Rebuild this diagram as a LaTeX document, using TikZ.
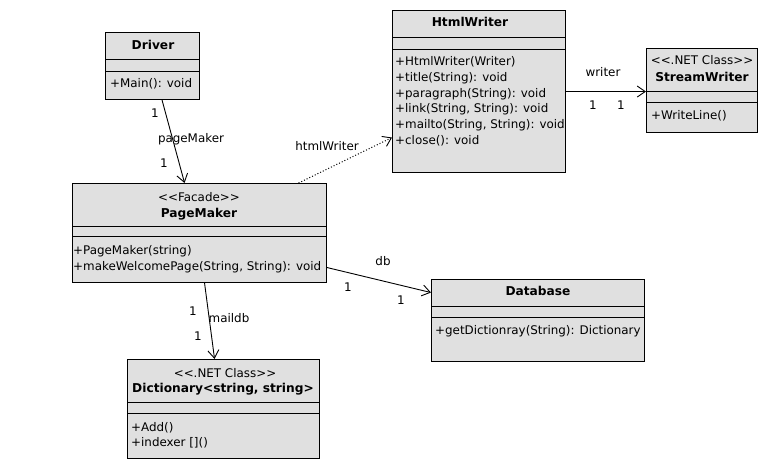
\documentclass[tikz,border=0pt]{standalone}
\usepackage{fontspec}
\setmainfont{DejaVu Sans}
\usetikzlibrary{arrows.meta,calc}
\begin{document}
\begin{tikzpicture}[x=1pt,y=-1pt,
  cls/.style={draw=black, line width=1.1pt, fill=black!12, inner sep=0pt, anchor=north west},
  sep/.style={line width=0.9pt},
  txt/.style={font=\fontsize{11.9}{14}\selectfont, inner sep=0pt},
  ttl/.style={font=\fontsize{12.2}{14}\selectfont\bfseries, inner sep=0pt, anchor=mid},
  mth/.style={txt, anchor=mid west},
  lbl/.style={txt, anchor=mid},
  assoc/.style={line width=0.9pt, -{Straight Barb[length=8pt,width=11pt]}},
  dep/.style={line width=1pt, dotted, -{Straight Barb[length=8pt,width=11pt,line width=0.9pt]}}
]
\useasboundingbox (0,0) rectangle (768,470);

% Driver
\node[cls, minimum width=94pt, minimum height=67pt] (driver) at (105,32) {};
\draw[sep] ($(driver.north west)+(0,27)$) -- ($(driver.north east)+(0,27)$);
\draw[sep] ($(driver.north west)+(0,39)$) -- ($(driver.north east)+(0,39)$);
\node[ttl] (driverT) at (153,47) {Driver};
\node[mth] (driverM1) at (110,85) {+Main(): void};

% PageMaker
\node[cls, minimum width=254pt, minimum height=99pt] (pm) at (72,183) {};
\draw[sep] ($(pm.north west)+(0,43)$) -- ($(pm.north east)+(0,43)$);
\draw[sep] ($(pm.north west)+(0,53)$) -- ($(pm.north east)+(0,53)$);
\node[lbl] (pmS) at (199,199) {<{}<Facade>{}>};
\node[ttl] (pmT) at (199,215) {PageMaker};
\node[mth] (pmM1) at (73,252) {+PageMaker(string)};
\node[mth] (pmM2) at (73,268) {+makeWelcomePage(String, String): void};

% HtmlWriter
\node[cls, minimum width=173pt, minimum height=162pt] (hw) at (392,10) {};
\draw[sep] ($(hw.north west)+(0,27)$) -- ($(hw.north east)+(0,27)$);
\draw[sep] ($(hw.north west)+(0,39)$) -- ($(hw.north east)+(0,39)$);
\node[ttl] (hwT) at (470,24) {HtmlWriter};
\node[mth] (hwM1) at (395,63) {+HtmlWriter(Writer)};
\node[mth] (hwM2) at (395,79) {+title(String): void};
\node[mth] (hwM3) at (395,94.5) {+paragraph(String): void};
\node[mth] (hwM4) at (395,110) {+link(String, String): void};
\node[mth] (hwM5) at (395,126) {+mailto(String, String): void};
\node[mth] (hwM6) at (395,142) {+close(): void};

% StreamWriter
\node[cls, minimum width=111pt, minimum height=84pt] (sw) at (646,48) {};
\draw[sep] ($(sw.north west)+(0,43)$) -- ($(sw.north east)+(0,43)$);
\draw[sep] ($(sw.north west)+(0,54)$) -- ($(sw.north east)+(0,54)$);
\node[lbl] (swS) at (702,62) {<{}<.NET Class>{}>};
\node[ttl] (swT) at (702,79) {StreamWriter};
\node[mth] (swM1) at (651,117) {+WriteLine()};

% Database
\node[cls, minimum width=213pt, minimum height=82pt] (db) at (431,279) {};
\draw[sep] ($(db.north west)+(0,27)$) -- ($(db.north east)+(0,27)$);
\draw[sep] ($(db.north west)+(0,38)$) -- ($(db.north east)+(0,38)$);
\node[ttl] (dbT) at (538,293) {Database};
\node[mth] (dbM1) at (435,332) {+getDictionray(String): Dictionary};

% Dictionary
\node[cls, minimum width=192pt, minimum height=99pt] (dict) at (127,359) {};
\draw[sep] ($(dict.north west)+(0,43)$) -- ($(dict.north east)+(0,43)$);
\draw[sep] ($(dict.north west)+(0,54)$) -- ($(dict.north east)+(0,54)$);
\node[lbl] (dictS) at (225,375) {<{}<.NET Class>{}>};
\node[ttl] (dictT) at (223,390) {Dictionary<string, string>};
\node[mth] (dictM1) at (131,429) {+Add()};
\node[mth] (dictM2) at (131,444) {+indexer [](){}};

% Connectors
\draw[assoc] ([xshift=9.5pt]driver.south) -- ([xshift=-15pt]pm.north);
\node[lbl] (l1a) at (155,115) {1};
\node[lbl] (l1b) at (191,140) {pageMaker};
\node[lbl] (l1c) at (164,165) {1};

\draw[dep] ([xshift=99pt]pm.north) -- ([yshift=-46pt]hw.west);
\node[lbl] (l2a) at (327,148) {htmlWriter};

\draw[assoc] ([yshift=0pt]hw.east) -- (hw.east -| sw.west);
\node[lbl] (l3a) at (603,74) {writer};
\node[lbl] (l3b) at (593,107) {1};
\node[lbl] (l3c) at (621,107) {1};

\draw[assoc] ([yshift=-34.5pt]pm.east) -- ([yshift=28pt]db.west);
\node[lbl] (l4a) at (383,263) {db};
\node[lbl] (l4b) at (348,289) {1};
\node[lbl] (l4c) at (401,302) {1};

\draw[assoc] ([xshift=5pt]pm.south) -- ([xshift=-9pt]dict.north);
\node[lbl] (l5a) at (193,313) {1};
\node[lbl] (l5b) at (229,320) {maildb};
\node[lbl] (l5c) at (198,338) {1};
\end{tikzpicture}
\end{document}
